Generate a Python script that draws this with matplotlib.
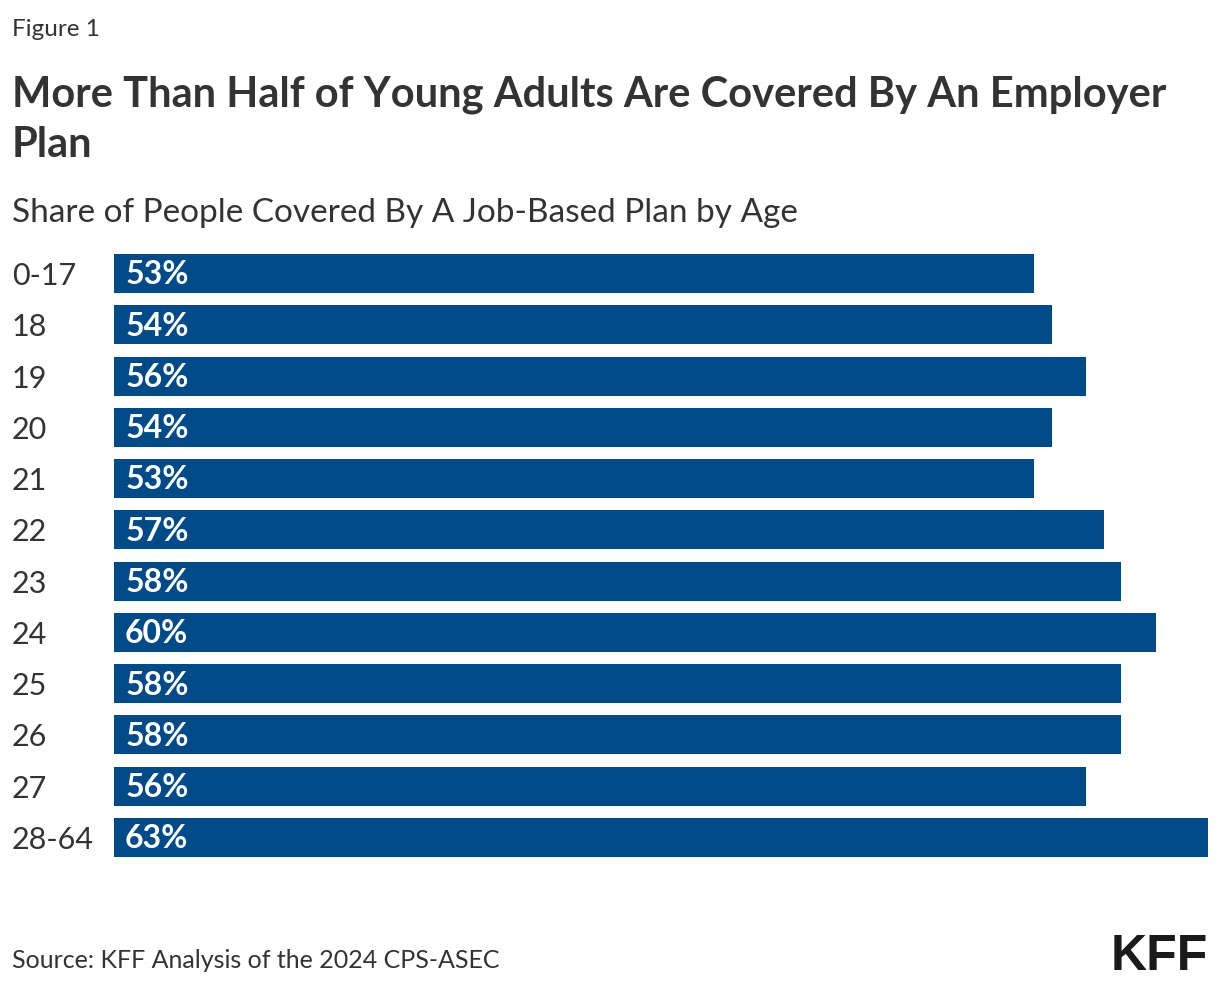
import numpy as np
import matplotlib.pyplot as plt

# Datos: porcentaje de personas con plan de empleador por edad.
edades = ["0-17", "18", "19", "20", "21", "22", "23", "24", "25", "26", "27", "28-64"]
valores = [53, 54, 56, 54, 53, 57, 58, 60, 58, 58, 56, 63]

W, H = 1220, 986
AZUL = "#004b87"
GRIS = "#333333"


def fx(px):
    return px / W


def fy(py):
    return 1 - py / H


def grafica():
    plt.rcParams['font.family'] = ['Lato', 'DejaVu Sans']
    fig = plt.figure(figsize=(W / 100, H / 100), dpi=100)

    # ejes en coordenadas de pixeles de la imagen original
    top, bottom = 247.9, 863.1
    ax = fig.add_axes([fx(114), fy(bottom), fx(1208) - fx(114), (bottom - top) / H])
    y = np.arange(len(edades))
    ax.barh(y, valores, height=0.76, color=AZUL)
    ax.set_xlim(0, max(valores))
    ax.set_ylim(len(edades) - 0.5, -0.5)

    ax.set_yticks(y)
    ax.set_yticklabels(edades, fontsize=22, color=GRIS, ha='left')
    ax.tick_params(axis='y', length=0, pad=(114 - 12) * 0.72)
    ax.set_xticks([])
    for s in ax.spines.values():
        s.set_visible(False)

    for i, v in enumerate(valores):
        ax.annotate(f"{v}%", (0, i), xytext=(8, -1), textcoords='offset points',
                    ha='left', va='center', color='white', fontsize=23,
                    fontweight='bold')

    fig.text(fx(12), fy(36), "Figure 1", fontsize=17.5, color=GRIS, va='baseline')
    fig.text(fx(12), fy(107), "More Than Half of Young Adults Are Covered By An Employer",
             fontsize=30, fontweight='bold', color=GRIS, va='baseline')
    fig.text(fx(12), fy(157), "Plan", fontsize=30, fontweight='bold', color=GRIS,
             va='baseline')
    fig.text(fx(12), fy(222), "Share of People Covered By A Job-Based Plan by Age",
             fontsize=24, color=GRIS, va='baseline')
    fig.text(fx(12), fy(968), "Source: KFF Analysis of the 2024 CPS-ASEC",
             fontsize=18, color=GRIS, va='baseline')
    fig.text(fx(1208), fy(970), "KFF", fontsize=36, fontweight='heavy',
             color="#1a1a1a", ha='right', va='baseline', family='Liberation Sans')

    fig.savefig("out.png", dpi=100)


if __name__ == "__main__":
    grafica()
